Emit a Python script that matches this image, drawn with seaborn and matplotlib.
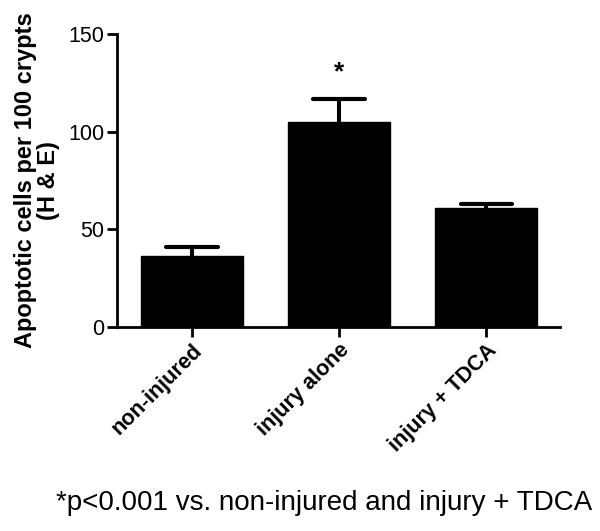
import matplotlib
matplotlib.use("Agg")
import matplotlib.pyplot as plt
import seaborn as sns
import pandas as pd
import numpy as np

groups = ["non-injured", "injury alone", "injury + TDCA"]
means = [36.3, 105.0, 61.0]
sems = [4.8, 11.6, 2.0]
yticks = [0, 50, 100, 150]

sns.set_theme(style="ticks")
plt.rcParams['font.family'] = ['Liberation Sans', 'DejaVu Sans']
plt.rcParams['text.color'] = 'black'
plt.rcParams['axes.labelcolor'] = 'black'
plt.rcParams['xtick.color'] = 'black'
plt.rcParams['ytick.color'] = 'black'
plt.rcParams['axes.edgecolor'] = 'black'

fig = plt.figure(figsize=(6.0, 5.31), dpi=100)
ax = fig.add_axes([0.195, 0.384, 0.738, 0.552])

df = pd.DataFrame({"group": groups, "mean": means})
sns.barplot(data=df, x="group", y="mean", color="black", width=0.69,
            saturation=1, errorbar=None, ax=ax, edgecolor="black")

xpos = np.arange(len(groups))
tops = np.array(means) + np.array(sems)
ax.vlines(xpos, means, tops, color="black", linewidth=2.9)
ax.hlines(tops, xpos - 0.175, xpos + 0.175, color="black", linewidth=3.0,
          capstyle="round")

ax.text(1, 130.5, "*", ha="center", va="center", fontsize=19, fontweight="bold")

ax.set_xlim(-0.51, 2.5)
ax.set_ylim(0, 150)
ax.set_yticks(yticks)
ax.set_yticklabels([str(t) for t in yticks], fontsize=15.5)
ax.set_xticks(xpos)
ax.set_xticklabels(groups, rotation=45, ha="right", rotation_mode="anchor",
                   fontsize=15.5, fontweight="bold")
ax.set_xlabel("")
ax.set_ylabel("Apoptotic cells per 100 crypts\n(H & E)", fontsize=17,
              fontweight="bold", labelpad=6, linespacing=1.0)

sns.despine(ax=ax)
for s in ["left", "bottom"]:
    ax.spines[s].set_linewidth(2.0)
ax.tick_params(axis="both", width=2.0, length=7, direction="out", pad=2)

fig.text(0.093, 0.053, "*p<0.001 vs. non-injured and injury + TDCA",
         ha="left", va="center", fontsize=20)

fig.savefig("out.png", dpi=100, facecolor="white")
